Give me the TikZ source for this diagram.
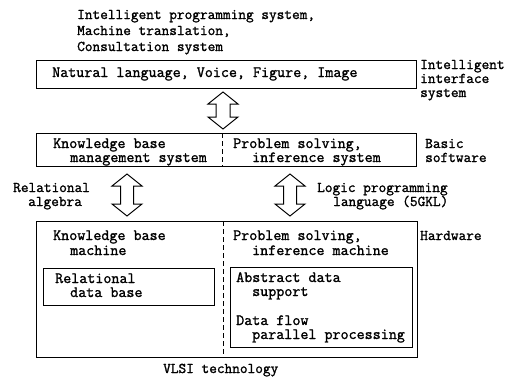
\documentclass[tikz,border=0pt]{standalone}
\usepackage{fontspec}
\setmonofont{Latin Modern Mono}[FakeBold=1.4]
\usetikzlibrary{calc}

% hollow double-headed arrow between two tip points
% #1 upper tip, #2 lower tip, #3 head half-width, #4 stem half-width, #5 head length
\newcommand\hollowdblarrow[5]{%
  \draw[arrowline] (#1) -- ++(#3,#5) -- ++(#4-#3,0)
    -- ($(#2)+(#4,-#5)$) -- ++(#3-#4,0) -- (#2)
    -- ++(-#3,-#5) -- ++(#3-#4,0)
    -- ($(#1)+(-#4,#5)$) -- ++(#4-#3,0) -- cycle;}

\begin{document}
\begin{tikzpicture}[x=1pt,y=-1pt,
  box/.style={draw,line width=1pt,inner sep=0pt},
  divider/.style={line width=1pt,dash pattern=on 5pt off 3pt},
  arrowline/.style={line width=1pt,line join=miter},
  txt/.style={anchor=base west,inner sep=0pt,text height=9pt,text depth=2.5pt,
    font=\ttfamily\fontsize{15.6}{16}\selectfont},
  side/.style={anchor=base west,inner sep=0pt,text height=9pt,text depth=2.5pt,
    font=\ttfamily\fontsize{14.9}{16}\selectfont}]
\useasboundingbox (0,0) rectangle (530,378);

% applications above the interface layer
\node[side] (app1) at (77,19) {Intelligent programming system,};
\node[side] (app2) at (77,35) {Machine translation,};
\node[side] (app3) at (77,51) {Consultation system};

% intelligent interface system
\draw[box] (36,60) rectangle (416,88);
\node[txt] (nat) at (52,77) {Natural language, Voice, Figure, Image};
\node[side] (lab1a) at (420,69) {Intelligent};
\node[side] (lab1b) at (420,83) {interface};
\node[side] (lab1c) at (420,97) {system};

% basic software
\draw[box] (36,133) rectangle (416,166);
\draw[divider] (222,133) -- (222,166);
\node[txt] (kb1) at (53,148) {Knowledge base};
\node[txt] (kb2) at (70,162) {management system};
\node[txt] (ps1) at (233,148) {Problem solving,};
\node[txt] (ps2) at (252,162) {inference system};
\node[side] (lab2a) at (425,148) {Basic};
\node[side] (lab2b) at (425,162) {software};

% hardware
\draw[box] (36,221) rectangle (417,357);
\draw[divider] (223,221) -- (223,357);
\node[txt] (km1) at (53,240) {Knowledge base};
\node[txt] (km2) at (70,255) {machine};
\node[txt] (im1) at (233,240) {Problem solving,};
\node[txt] (im2) at (252,255) {inference machine};
\node[side] (lab3) at (420,240) {Hardware};

\draw[box] (43,268) rectangle (214,305);
\node[txt] (rd1) at (55,283) {Relational};
\node[txt] (rd2) at (70,297) {data base};

\draw[box] (230,267) rectangle (412,347);
\node[txt] (ad1) at (236,282) {Abstract data};
\node[txt] (ad2) at (252,296) {support};
\node[txt] (df1) at (236,325) {Data flow};
\node[txt] (df2) at (252,339) {parallel processing};

\node[side] (vlsi) at (163,373) {VLSI technology};

% interface labels between layers
\node[side] (ra1) at (13,192) {Relational};
\node[side] (ra2) at (28,206) {algebra};
\node[side] (lp1) at (317,192) {Logic programming};
\node[side] (lp2) at (333,206) {language (5GKL)};

% arrow tips
\coordinate (a1t) at (223,92);
\coordinate (a1b) at (223,129);
\coordinate (a2t) at (127,174);
\coordinate (a2b) at (127,216);
\coordinate (a3t) at (290,174);
\coordinate (a3b) at (290,216);

\hollowdblarrow{a1t}{a1b}{15}{7}{12}
\hollowdblarrow{a2t}{a2b}{15}{6.5}{12}
\hollowdblarrow{a3t}{a3b}{15}{6.5}{12}
\end{tikzpicture}
\end{document}
